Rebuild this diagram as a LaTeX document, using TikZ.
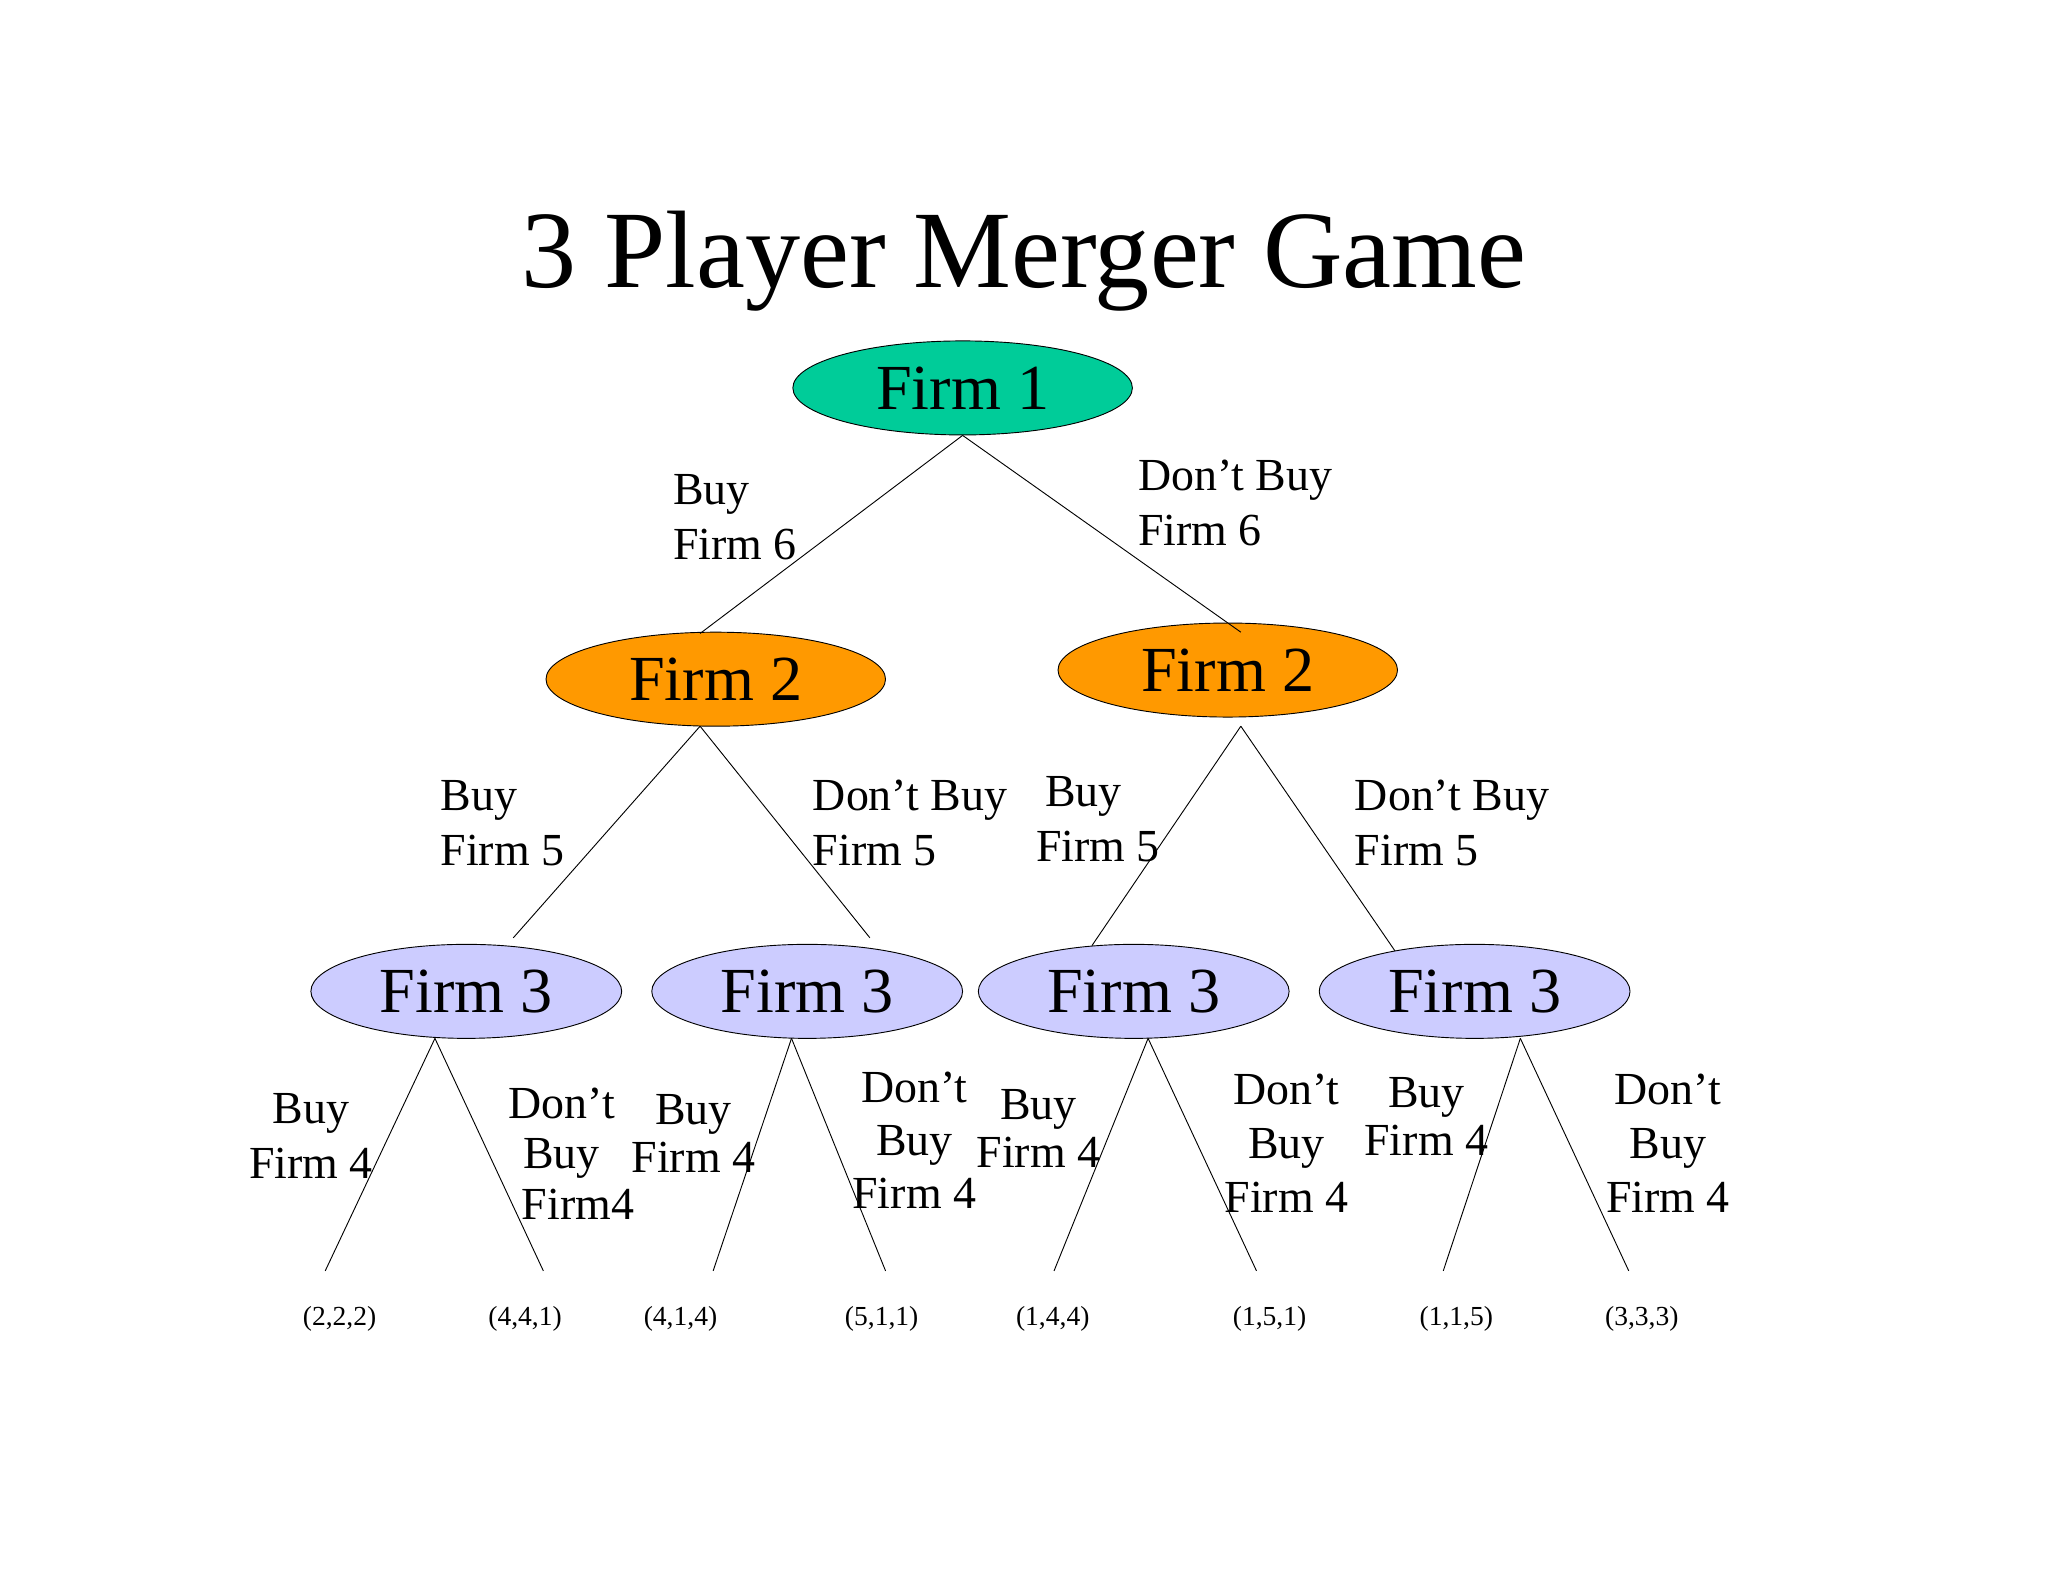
\documentclass[tikz,border=0pt]{standalone}
\usepackage{fontspec}
\setmainfont{Liberation Serif}
\usetikzlibrary{shapes.geometric}
\definecolor{gA}{HTML}{00CC99}
\definecolor{oA}{HTML}{FF9900}
\definecolor{pA}{HTML}{CCCCFF}
\begin{document}
\begin{tikzpicture}[x=0.02cm,y=-0.02cm,
  firm/.style={ellipse,draw,thin,minimum width=5.2cm,minimum height=1.44cm,inner sep=0pt,font=\fontsize{28}{30}\selectfont},
  f3/.style={firm,minimum width=4.76cm},
  lab/.style={anchor=west,align=left,inner sep=0pt,font=\fontsize{20}{24}\selectfont},
  lab2/.style={align=center,inner sep=0pt,font=\fontsize{20}{21}\selectfont},
  pay/.style={inner sep=0pt,font=\fontsize{12}{14}\selectfont},
  br/.style={draw,thin}]
\useasboundingbox (0,0) rectangle (1568,1210);
\node[font=\fontsize{48}{50}\selectfont] (title) at (784,200) {3 Player Merger Game};
\node[firm,fill=gA] (f1) at (737,297) {Firm 1};
\node[firm,fill=oA] (f2a) at (548,520) {Firm 2};
\node[firm,fill=oA] (f2b) at (940,513) {Firm 2};
\node[f3,fill=pA] (f3a) at (357,759) {Firm 3};
\node[f3,fill=pA] (f3b) at (618,759) {Firm 3};
\node[f3,fill=pA] (f3c) at (868,759) {Firm 3};
\node[f3,fill=pA] (f3d) at (1129,759) {Firm 3};
\coordinate (a1) at (536,485); \coordinate (a2) at (950,484);
\coordinate (b1) at (393,718); \coordinate (b2) at (666,718);
\coordinate (b3) at (836,724); \coordinate (b4) at (1068,728);
\coordinate (s1) at (536,556); \coordinate (s2) at (950,556);
\coordinate (t1) at (333,795); \coordinate (t2) at (606,795);
\coordinate (t3) at (879,795); \coordinate (t4) at (1164,795);
\draw[br] (f1.south) -- (a1); \draw[br] (f1.south) -- (a2);
\draw[br] (s1) -- (b1); \draw[br] (s1) -- (b2);
\draw[br] (s2) -- (b3); \draw[br] (s2) -- (b4);
\foreach \t/\l/\r/\a/\b in {t1/249/416/p1/p2,t2/546/678/p3/p4,t3/807/962/p5/p6,t4/1105/1247/p7/p8}{
  \coordinate (\a) at (\l,973); \coordinate (\b) at (\r,973);
  \draw[br] (\t) -- (\a); \draw[br] (\t) -- (\b);}
\node[lab] (l1) at (515,396) {Buy\\Firm 6};
\node[lab] (l2) at (871,385) {Don’t Buy\\Firm 6};
\node[lab] (l3) at (337,630) {Buy\\Firm 5};
\node[lab] (l4) at (622,630) {Don’t Buy\\Firm 5};
\node[lab] (l5) at (793,627) {\hspace{0.14cm}Buy\\Firm 5};
\node[lab] (l6) at (1037,630) {Don’t Buy\\Firm 5};
\node[lab2,font=\fontsize{20}{24}\selectfont] (m1) at (238,870) {Buy\\Firm 4};
\node[lab2,font=\fontsize{20}{22}\selectfont] (m2) at (430,883) {Don’t\\Buy\\\hspace{0.5cm}Firm4};
\node[lab2] (m3) at (531,868) {Buy\\Firm 4};
\node[lab2,font=\fontsize{20}{23}\selectfont] (m4) at (700,873) {Don’t\\Buy\\Firm 4};
\node[lab2] (m5) at (795,864) {Buy\\Firm 4};
\node[lab2,font=\fontsize{20}{23.5}\selectfont] (m6) at (985,875) {Don’t\\Buy\\Firm 4};
\node[lab2] (m7) at (1092,855) {Buy\\Firm 4};
\node[lab2,font=\fontsize{20}{23.5}\selectfont] (m8) at (1277,875) {Don’t\\Buy\\Firm 4};
\node[pay] (q1) at (260,1010) {(2,2,2)};
\node[pay] (q2) at (402,1010) {(4,4,1)};
\node[pay] (q3) at (521,1010) {(4,1,4)};
\node[pay] (q4) at (675,1010) {(5,1,1)};
\node[pay] (q5) at (806,1010) {(1,4,4)};
\node[pay] (q6) at (972,1010) {(1,5,1)};
\node[pay] (q7) at (1115,1010) {(1,1,5)};
\node[pay] (q8) at (1257,1010) {(3,3,3)};
\end{tikzpicture}
\end{document}
